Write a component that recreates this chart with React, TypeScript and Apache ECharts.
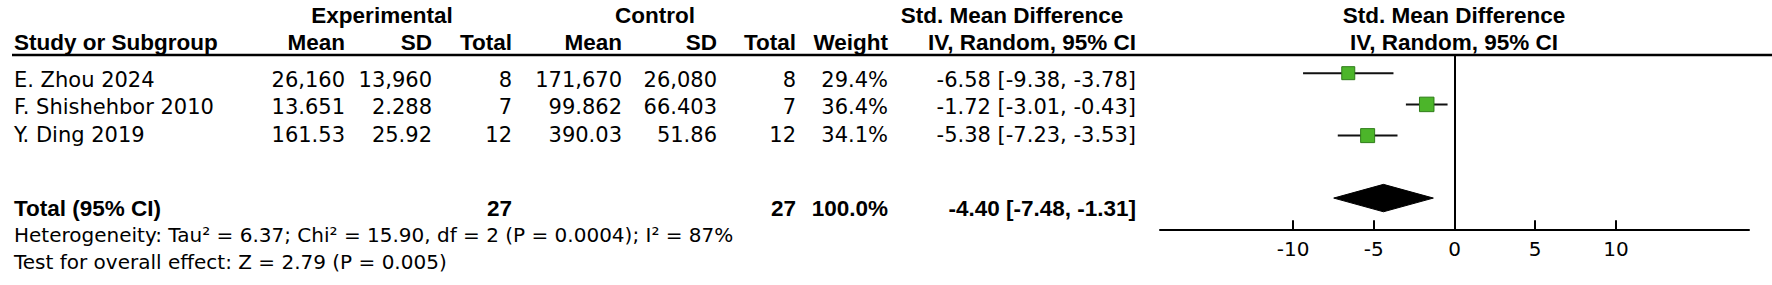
import React, { useEffect, useRef } from 'react';
import * as echarts from 'echarts';

// ---------- data ----------
const studies = ['E. Zhou 2024', 'F. Shishehbor 2010', 'Y. Ding 2019'];
const expMean = ['26,160', '13.651', '161.53'];
const expSD = ['13,960', '2.288', '25.92'];
const expTotal = [8, 7, 12];
const ctrlMean = ['171,670', '99.862', '390.03'];
const ctrlSD = ['26,080', '66.403', '51.86'];
const ctrlTotal = [8, 7, 12];
const weights = [29.4, 36.4, 34.1];
const smd = [-6.58, -1.72, -5.38];
const ciLow = [-9.38, -3.01, -7.23];
const ciHigh = [-3.78, -0.43, -3.53];

const pooledEst = -4.4;
const pooledLow = -7.48;
const pooledHigh = -1.31;
const pooledExpN = 27;
const pooledCtrlN = 27;
const pooledWeight = 100.0;

const tau2 = '6.37';
const chi2 = '15.90';
const dfHet = 2;
const pHet = '0.0004';
const i2 = 87;
const zVal = '2.79';
const pZ = '0.005';

const xTicks = [-10, -5, 0, 5, 10];

// ---------- styles ----------
const REG = '"DejaVu Sans", sans-serif';
const BOLD = '"Liberation Sans", Arial, sans-serif';
const regFont = `21px ${REG}`;
const footFont = `20px ${REG}`;
const boldFont = `bold 22.5px ${BOLD}`;

const colRight = {
  expMean: 345,
  expSD: 432,
  expTotal: 512,
  ctrlMean: 622,
  ctrlSD: 717,
  ctrlTotal: 796,
  weight: 888,
  ci: 1136,
};
const leftX = 14;
const head0Y = 15;
const head1Y = 42;
const rowTextY = [80, 107, 135];
const totalTextY = 208;
const footY = [235, 262];
const squareSizes = [13, 14.5, 14];

function txt(text: string, x: number, y: number, font: string, align: string = 'left') {
  return {
    type: 'text',
    x,
    y,
    silent: true,
    style: {
      text,
      font,
      fill: '#000',
      textAlign: align,
      textVerticalAlign: 'middle',
      align,
      verticalAlign: 'middle',
    },
  };
}

const fmtCI = (e: number, l: number, h: number) => `${e.toFixed(2)} [${l.toFixed(2)}, ${h.toFixed(2)}]`;

export default function App() {
  const ref = useRef<HTMLDivElement>(null);
  useEffect(() => {
    if (!ref.current) return;
    const chart = echarts.init(ref.current, undefined, { renderer: 'svg' });

    const graphics: any[] = [];
    // headers row 0
    graphics.push(txt('Experimental', 382, head0Y, boldFont, 'center'));
    graphics.push(txt('Control', 655, head0Y, boldFont, 'center'));
    graphics.push(txt('Std. Mean Difference', 1012, head0Y, boldFont, 'center'));
    graphics.push(txt('Std. Mean Difference', 1454, head0Y, boldFont, 'center'));
    // headers row 1
    graphics.push(txt('Study or Subgroup', leftX, head1Y, boldFont, 'left'));
    graphics.push(txt('Mean', colRight.expMean, head1Y, boldFont, 'right'));
    graphics.push(txt('SD', colRight.expSD, head1Y, boldFont, 'right'));
    graphics.push(txt('Total', colRight.expTotal, head1Y, boldFont, 'right'));
    graphics.push(txt('Mean', colRight.ctrlMean, head1Y, boldFont, 'right'));
    graphics.push(txt('SD', colRight.ctrlSD, head1Y, boldFont, 'right'));
    graphics.push(txt('Total', colRight.ctrlTotal, head1Y, boldFont, 'right'));
    graphics.push(txt('Weight', colRight.weight, head1Y, boldFont, 'right'));
    graphics.push(txt('IV, Random, 95% CI', colRight.ci, head1Y, boldFont, 'right'));
    graphics.push(txt('IV, Random, 95% CI', 1454, head1Y, boldFont, 'center'));
    // header rule
    graphics.push({
      type: 'line',
      silent: true,
      shape: { x1: 12, y1: 55, x2: 1772, y2: 55 },
      style: { stroke: '#000', lineWidth: 2.5 },
    });
    // study rows
    studies.forEach((s, i) => {
      const y = rowTextY[i];
      graphics.push(txt(s, leftX, y, regFont, 'left'));
      graphics.push(txt(expMean[i], colRight.expMean, y, regFont, 'right'));
      graphics.push(txt(expSD[i], colRight.expSD, y, regFont, 'right'));
      graphics.push(txt(String(expTotal[i]), colRight.expTotal, y, regFont, 'right'));
      graphics.push(txt(ctrlMean[i], colRight.ctrlMean, y, regFont, 'right'));
      graphics.push(txt(ctrlSD[i], colRight.ctrlSD, y, regFont, 'right'));
      graphics.push(txt(String(ctrlTotal[i]), colRight.ctrlTotal, y, regFont, 'right'));
      graphics.push(txt(`${weights[i].toFixed(1)}%`, colRight.weight, y, regFont, 'right'));
      graphics.push(txt(fmtCI(smd[i], ciLow[i], ciHigh[i]), colRight.ci, y, regFont, 'right'));
    });
    // total row
    graphics.push(txt('Total (95% CI)', leftX, totalTextY, boldFont, 'left'));
    graphics.push(txt(String(pooledExpN), colRight.expTotal, totalTextY, boldFont, 'right'));
    graphics.push(txt(String(pooledCtrlN), colRight.ctrlTotal, totalTextY, boldFont, 'right'));
    graphics.push(txt(`${pooledWeight.toFixed(1)}%`, colRight.weight, totalTextY, boldFont, 'right'));
    graphics.push(txt(fmtCI(pooledEst, pooledLow, pooledHigh), colRight.ci, totalTextY, boldFont, 'right'));
    // footer
    graphics.push(
      txt(
        `Heterogeneity: Tau\u00B2 = ${tau2}; Chi\u00B2 = ${chi2}, df = ${dfHet} (P = ${pHet}); I\u00B2 = ${i2}%`,
        leftX,
        footY[0],
        footFont,
        'left'
      )
    );
    graphics.push(txt(`Test for overall effect: Z = ${zVal} (P = ${pZ})`, leftX, footY[1], footFont, 'left'));

    const ciData = studies.map((_, i) => [ciLow[i], ciHigh[i], i]);
    const pointData = studies.map((_, i) => [smd[i], i]);
    const diamondData = [[pooledLow, pooledEst, pooledHigh, 4]];

    const option: any = {
      animation: false,
      backgroundColor: '#fff',
      grid: { left: 1160, top: 56, width: 589, height: 173.3, containLabel: false },
      xAxis: {
        type: 'value',
        min: -18.24,
        max: 18.24,
        splitLine: { show: false },
        axisLine: { show: true, onZero: false, lineStyle: { color: '#000', width: 2 } },
        axisTick: {
          show: true,
          inside: true,
          length: 9,
          customValues: xTicks,
          lineStyle: { color: '#000', width: 2 },
        },
        axisLabel: {
          show: true,
          customValues: xTicks,
          margin: 10,
          color: '#000',
          fontFamily: 'DejaVu Sans',
          fontSize: 20,
          formatter: (v: number) => String(v),
        },
      },
      yAxis: {
        type: 'value',
        inverse: true,
        min: -0.55,
        max: 5.0,
        show: false,
        splitLine: { show: false },
      },
      graphic: { elements: graphics },
      series: [
        {
          type: 'custom',
          z: 2,
          data: ciData,
          encode: { x: [0, 1], y: 2 },
          renderItem: (params: any, api: any) => {
            const lo = api.coord([api.value(0), api.value(2)]);
            const hi = api.coord([api.value(1), api.value(2)]);
            return {
              type: 'line',
              shape: { x1: lo[0], y1: lo[1], x2: hi[0], y2: hi[1] },
              style: { stroke: '#111', lineWidth: 2 },
            };
          },
          silent: true,
        },
        {
          type: 'scatter',
          z: 3,
          data: pointData,
          symbol: 'rect',
          symbolSize: (_v: any, p: any) => squareSizes[p.dataIndex],
          itemStyle: { color: '#4cb52a', borderColor: '#2f7d1a', borderWidth: 1, opacity: 1 },
          silent: true,
          markLine: {
            silent: true,
            symbol: ['none', 'none'],
            label: { show: false },
            lineStyle: { color: '#000', width: 2, type: 'solid' },
            data: [{ xAxis: 0 }],
          },
        },
        {
          type: 'custom',
          z: 3,
          data: diamondData,
          encode: { x: [0, 1, 2], y: 3 },
          renderItem: (params: any, api: any) => {
            const l = api.coord([api.value(0), api.value(3)]);
            const c = api.coord([api.value(1), api.value(3)]);
            const r = api.coord([api.value(2), api.value(3)]);
            const h = 13.7;
            return {
              type: 'polygon',
              shape: {
                points: [
                  [l[0], l[1]],
                  [c[0], c[1] - h],
                  [r[0], r[1]],
                  [c[0], c[1] + h],
                ],
              },
              style: { fill: '#000', stroke: '#000', lineWidth: 1 },
            };
          },
          silent: true,
        },
      ],
    };
    chart.setOption(option);
    return () => chart.dispose();
  }, []);

  return (
    <div
      ref={ref}
      style={{ position: 'fixed', left: 0, top: 0, width: 1772, height: 285, background: '#fff' }}
    />
  );
}
